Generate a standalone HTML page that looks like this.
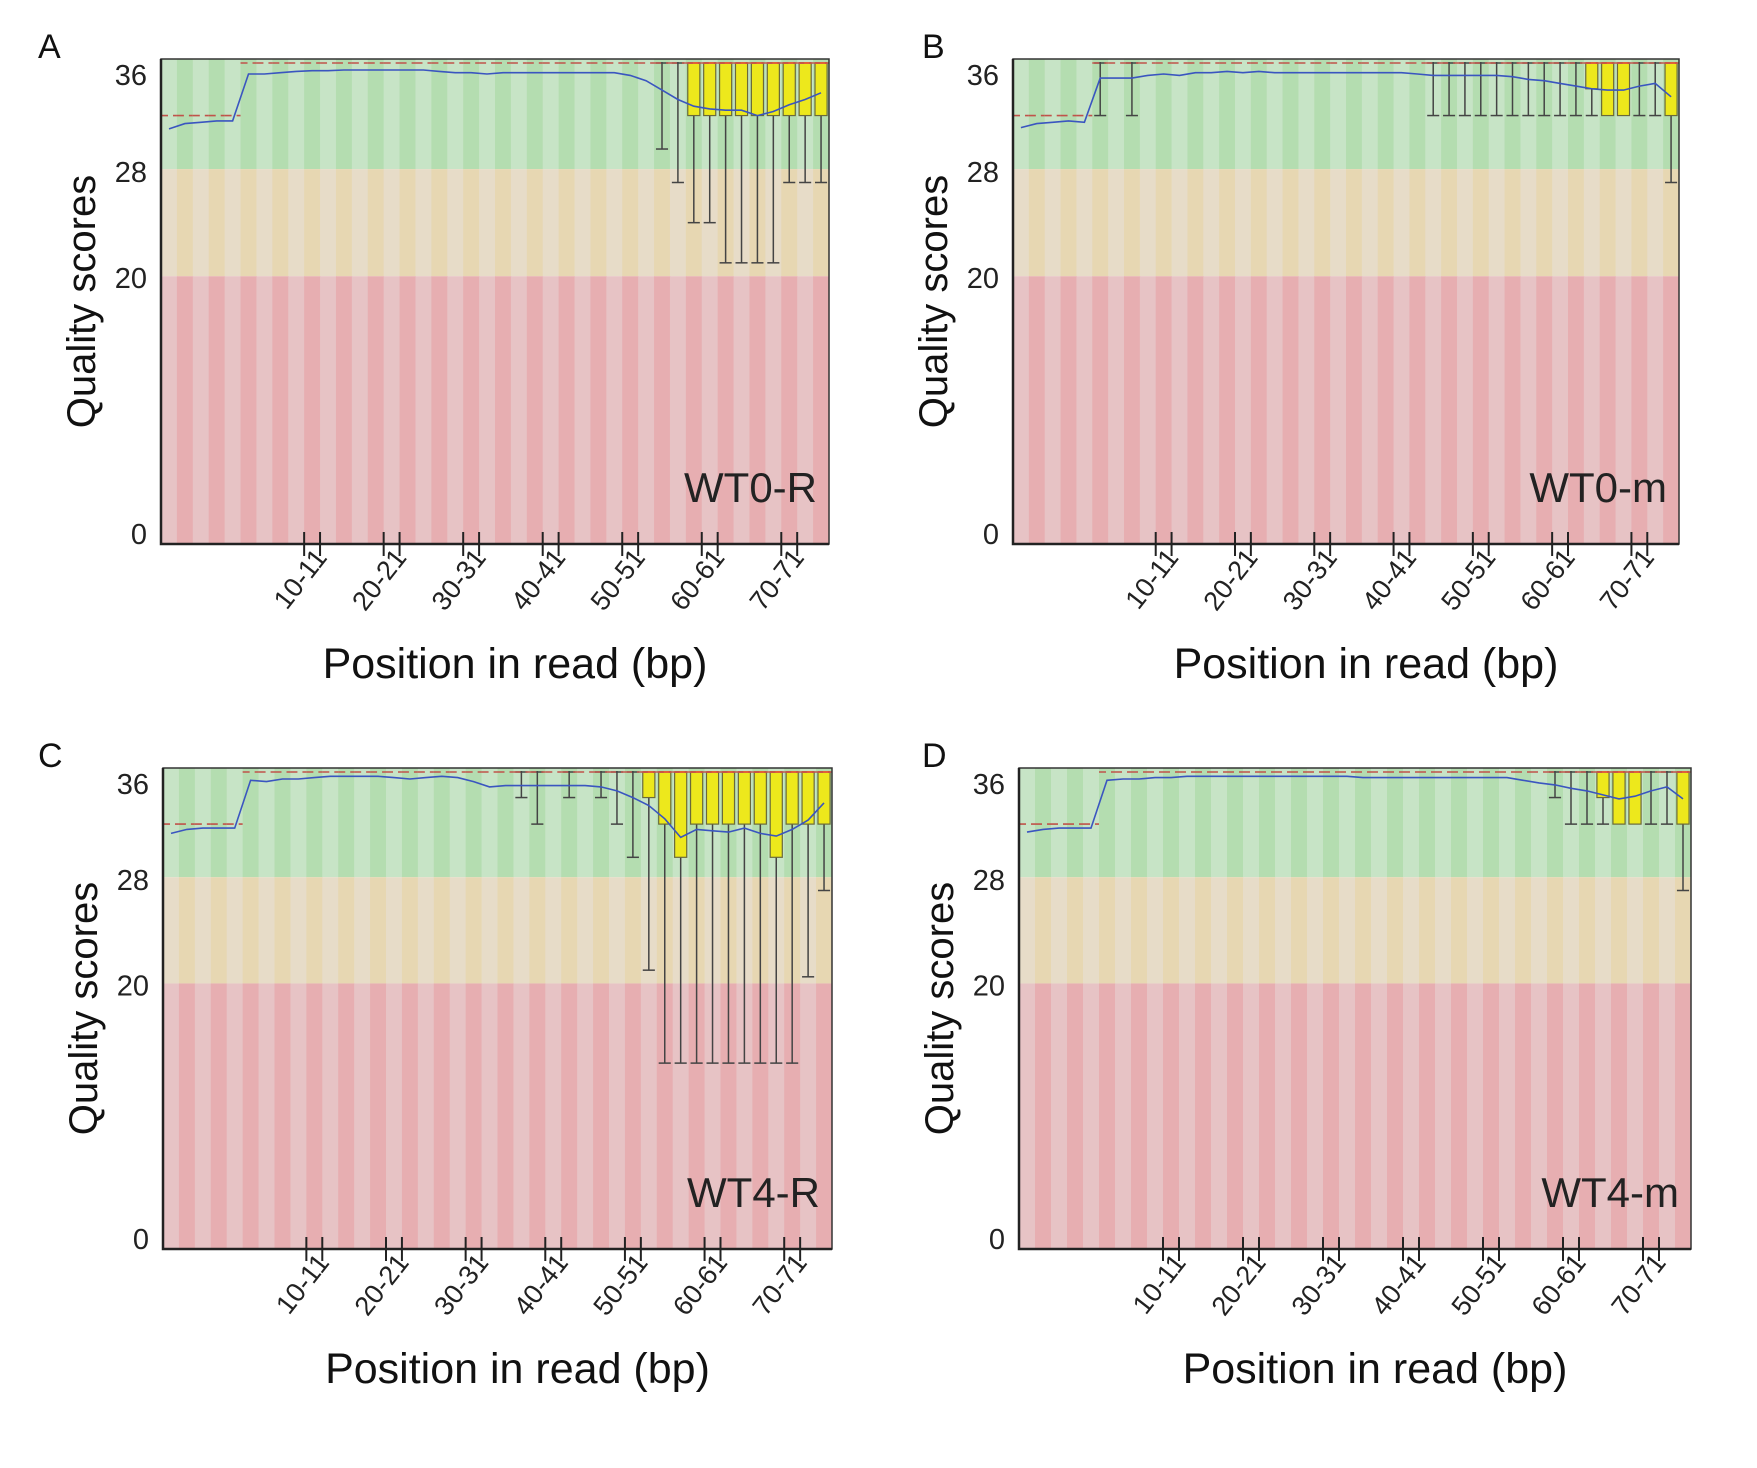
<!DOCTYPE html>
<html><head><meta charset="utf-8"><title>Per-base quality scores</title>
<style>
html,body{margin:0;padding:0;background:#fff;}
svg{display:block;font-family:"Liberation Sans",sans-serif;}
</style></head>
<body>
<svg id="fig" width="1757" height="1468" viewBox="0 0 1757 1468" xmlns="http://www.w3.org/2000/svg"></svg>
<script>
// ---- data ----
const tickLabels = ["10-11","20-21","30-31","40-41","50-51","60-61","70-71"];
const tickBins = [9,14,19,24,29,34,39];
const yTicks = [36,28,20,0];

const aMean = [31.0,31.4,31.5,31.6,31.6,35.1,35.1,35.2,35.3,35.35,35.35,35.4,35.4,35.4,35.4,35.4,35.4,35.3,35.2,35.2,35.1,35.2,35.2,35.2,35.2,35.2,35.2,35.2,35.2,35.0,34.6,33.9,33.2,32.7,32.5,32.4,32.4,32.0,32.3,32.8,33.2,33.7];
const aMedian = [32,32,32,32,32,36,36,36,36,36,36,36,36,36,36,36,36,36,36,36,36,36,36,36,36,36,36,36,36,36,36,36,36,36,36,36,36,36,36,36,36,36];
const aQ1 = [32,32,32,32,32,36,36,36,36,36,36,36,36,36,36,36,36,36,36,36,36,36,36,36,36,36,36,36,36,36,36,36,36,32,32,32,32,32,32,32,32,32];
const aLow = [32,32,32,32,32,36,36,36,36,36,36,36,36,36,36,36,36,36,36,36,36,36,36,36,36,36,36,36,36,36,36,29.5,27,24,24,21,21,21,21,27,27,27];

const bMean = [31.1,31.4,31.5,31.6,31.5,34.8,34.8,34.8,35.0,35.1,35.0,35.2,35.2,35.3,35.2,35.3,35.2,35.2,35.2,35.2,35.2,35.2,35.2,35.2,35.2,35.1,35.0,35.0,35.0,35.0,35.0,34.9,34.7,34.6,34.4,34.2,34.0,33.9,33.9,34.2,34.4,33.4];
const bMedian = [32,32,32,32,32,36,36,36,36,36,36,36,36,36,36,36,36,36,36,36,36,36,36,36,36,36,36,36,36,36,36,36,36,36,36,36,36,36,36,36,36,36];
const bQ1 = [32,32,32,32,32,36,36,36,36,36,36,36,36,36,36,36,36,36,36,36,36,36,36,36,36,36,36,36,36,36,36,36,36,36,36,36,34,32,32,36,36,32];
const bLow = [32,32,32,32,32,32,36,32,36,36,36,36,36,36,36,36,36,36,36,36,36,36,36,36,36,36,32,32,32,32,32,32,32,32,32,32,32,32,32,32,32,27];

const cMean = [31.3,31.6,31.7,31.7,31.7,35.3,35.2,35.4,35.4,35.5,35.6,35.6,35.6,35.6,35.5,35.4,35.5,35.6,35.5,35.2,34.8,34.9,34.9,34.9,34.9,34.9,34.9,34.8,34.5,34.0,33.4,32.4,31.0,31.6,31.5,31.4,31.7,31.3,31.1,31.6,32.3,33.6];
const cMedian = [32,32,32,32,32,36,36,36,36,36,36,36,36,36,36,36,36,36,36,36,36,36,36,36,36,36,36,36,36,36,36,36,36,36,36,36,36,36,36,36,36,36];
const cQ1 = [32,32,32,32,32,36,36,36,36,36,36,36,36,36,36,36,36,36,36,36,36,36,36,36,36,36,36,36,36,36,34,32,29.5,32,32,32,32,32,29.5,32,32,32];
const cLow = [32,32,32,32,32,36,36,36,36,36,36,36,36,36,36,36,36,36,36,36,36,36,34,32,36,34,36,34,32,29.5,21,14,14,14,14,14,14,14,14,14,20.5,27];

const dMean = [31.4,31.6,31.7,31.7,31.7,35.3,35.4,35.4,35.5,35.5,35.6,35.6,35.6,35.6,35.6,35.6,35.6,35.6,35.6,35.6,35.6,35.5,35.5,35.5,35.5,35.5,35.5,35.5,35.5,35.5,35.5,35.3,35.1,34.95,34.7,34.5,34.2,33.9,34.1,34.5,34.8,33.9];
const dMedian = [32,32,32,32,32,36,36,36,36,36,36,36,36,36,36,36,36,36,36,36,36,36,36,36,36,36,36,36,36,36,36,36,36,36,36,36,36,36,36,36,36,36];
const dQ1 = [32,32,32,32,32,36,36,36,36,36,36,36,36,36,36,36,36,36,36,36,36,36,36,36,36,36,36,36,36,36,36,36,36,36,36,36,34,32,32,36,36,32];
const dLow = [32,32,32,32,32,36,36,36,36,36,36,36,36,36,36,36,36,36,36,36,36,36,36,36,36,36,36,36,36,36,36,36,36,34,32,32,32,32,32,32,32,27];

const panels = [
  {letter:"A", sample:"WT0-R", L:161, R:829, y36:62, y0:544, letterX:38, mean:aMean, median:aMedian, q1:aQ1, low:aLow},
  {letter:"B", sample:"WT0-m", L:1013, R:1679, y36:62, y0:544, letterX:922, mean:bMean, median:bMedian, q1:bQ1, low:bLow},
  {letter:"C", sample:"WT4-R", L:163, R:832, y36:771, y0:1249, letterX:38, mean:cMean, median:cMedian, q1:cQ1, low:cLow},
  {letter:"D", sample:"WT4-m", L:1019, R:1691, y36:771, y0:1249, letterX:922, mean:dMean, median:dMedian, q1:dQ1, low:dLow}
];

// ---- drawing ----
const NS = "http://www.w3.org/2000/svg";
const svg = document.getElementById("fig");
function mk(tag, attrs, parent){
  const e = document.createElementNS(NS, tag);
  for (const k in attrs) e.setAttribute(k, attrs[k]);
  (parent||svg).appendChild(e);
  return e;
}
panels.forEach(function(p){
  const g = mk("g", {});
  
  
  const n = p.mean.length;
  const bw = (p.R - p.L) / n;
  const y = q => p.y0 - (q/36)*(p.y0 - p.y36);
  const xc = i => p.L + (i + 0.5) * bw;
  const top = y(36) - 3, bot = y(0);
  const zones = [[36.3,28,"#b4ddb0","#c7e4c6","zone-good"],[28,20,"#e7d7b2","#e7dcc8","zone-reasonable"],[20,0,"#e7aeb1","#e7c3c5","zone-poor"]];
  zones.forEach(function(z){
    for (let i=0;i<n;i++){
      const yt = Math.max(top, y(z[0])), yb = y(z[1]);
      const r = mk("rect", {x:p.L+i*bw, y:yt, width:bw+0.5, height:yb-yt, fill: i%2===0 ? z[3] : z[2]}, g);
      
      
    }
  });
  for (let i=0;i<n;i++){
    const cx = xc(i), hw = bw*0.38;
    if (p.low[i] < p.q1[i]) {
      const wl = mk("line", {x1:cx, x2:cx, y1:y(p.q1[i]), y2:y(p.low[i]), stroke:"#444", "stroke-width":1.5}, g);
      
      
      const wc = mk("line", {x1:cx-hw, x2:cx+hw, y1:y(p.low[i]), y2:y(p.low[i]), stroke:"#444", "stroke-width":1.5}, g);
      
      
    }
    if (p.low[i] < 36 && p.median[i] === 36) {
      const wt = mk("line", {x1:cx, x2:cx, y1:y(36), y2:y(p.q1[i]), stroke:"#444", "stroke-width":1.5}, g);
      
      
      const tc = mk("line", {x1:cx-hw, x2:cx+hw, y1:y(36)+1, y2:y(36)+1, stroke:"#444", "stroke-width":1.5}, g);
      
      
    }
    if (p.q1[i] < p.median[i]) {
      const b = mk("rect", {x:cx-hw, y:y(36)+1, width:2*hw, height:y(p.q1[i])-y(36)-1, fill:"#ede81c", stroke:"#6a6a3a", "stroke-width":1.2}, g);
      
      
      const mt = mk("line", {x1:cx-hw, x2:cx+hw, y1:y(36)+1, y2:y(36)+1, stroke:"#e0603a", "stroke-width":2}, g);
      
      
    }
  }
  for (let i=0;i<n;i++){
    const off = p.median[i]===36 ? 1 : 0;
    const md = mk("line", {x1:p.L+i*bw, x2:p.L+(i+1)*bw, y1:y(p.median[i])+off, y2:y(p.median[i])+off, stroke:"#c0534a", "stroke-width":1.6, "stroke-dasharray":"7,5"}, g);
    
    
  }
  let d = "";
  for (let i=0;i<n;i++) d += (i?"L":"M") + xc(i).toFixed(1) + "," + y(p.mean[i]).toFixed(1);
  const ml = mk("path", {d:d, fill:"none", stroke:"#3a55c0", "stroke-width":1.6}, g);
  
  
  const fr = mk("rect", {x:p.L, y:top, width:p.R-p.L, height:bot-top, fill:"none", stroke:"#333", "stroke-width":1.5}, g);
  
  
  const ax = mk("path", {d:"M"+p.L+","+top+"V"+bot+"H"+p.R, fill:"none", stroke:"#222", "stroke-width":2.5}, g);
  
  
  const yOff = {36:13, 28:3, 20:2, 0:-10};
  yTicks.forEach(function(t){
    const tx = mk("text", {x:p.L-14, y:y(t)+yOff[t]+10, "text-anchor":"end", "font-size":29, fill:"#222"}, g);
    tx.textContent = t;
    
    
  });
  tickBins.forEach(function(b, k){
    [p.L+b*bw, p.L+(b+1)*bw].forEach(function(tx){
      const tl = mk("line", {x1:tx, x2:tx, y1:bot-12, y2:bot+12, stroke:"#222", "stroke-width":2}, g);
      
      
    });
    const lx = xc(b)+16, ly = bot+14;
    const lab = mk("text", {x:lx, y:ly, "text-anchor":"end", "font-size":27, fill:"#222", transform:"rotate(-52 "+lx+" "+ly+")"}, g);
    lab.textContent = tickLabels[k];
    
    
  });
  const yc = (top+bot)/2;
  const yt = mk("text", {x:p.L-66, y:yc, "text-anchor":"middle", "font-size":40, fill:"#111", transform:"rotate(-90 "+(p.L-66)+" "+yc+")"}, g);
  yt.textContent = "Quality scores";
  
  
  const xt = mk("text", {x:(p.L+p.R)/2+20, y:bot+134, "text-anchor":"middle", "font-size":43, fill:"#111"}, g);
  xt.textContent = "Position in read (bp)";
  
  
  const sl = mk("text", {x:p.R-12, y:bot-42, "text-anchor":"end", "font-size":42, fill:"#222"}, g);
  sl.textContent = p.sample;
  
  
  const pl = mk("text", {x:p.letterX, y:top-1, "font-size":34, fill:"#111"}, g);
  pl.textContent = p.letter;
  
  
});
</script>
</body></html>
